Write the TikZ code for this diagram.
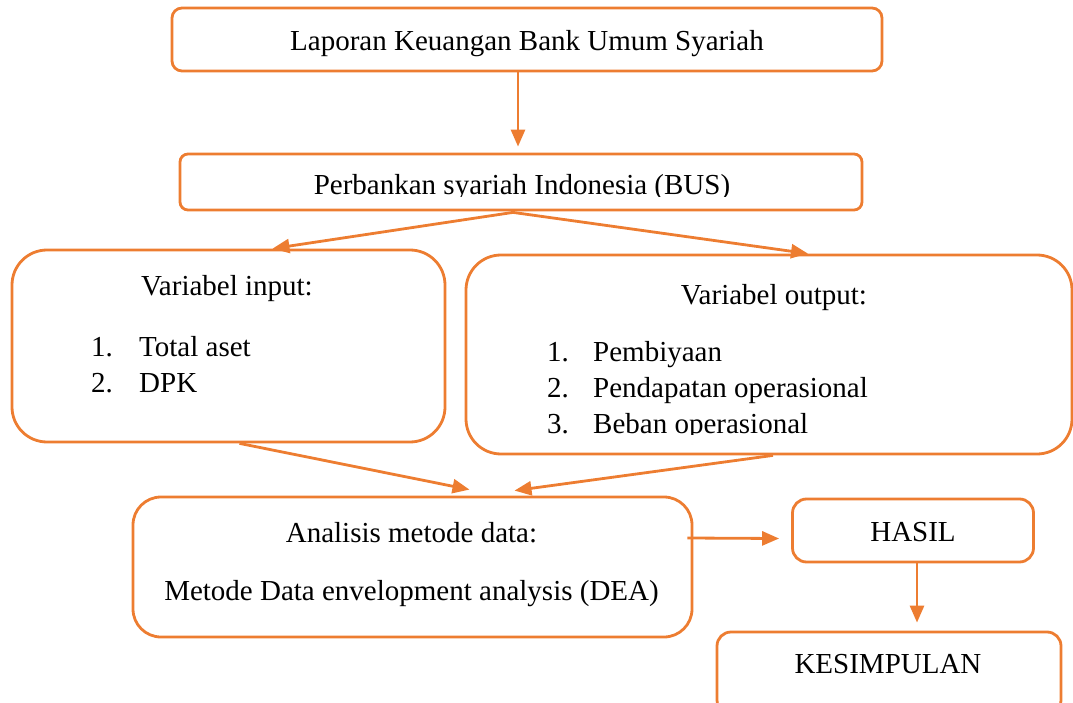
\documentclass[tikz,border=0pt]{standalone}
\usepackage{fontspec}
\setmainfont{Liberation Serif}
\usetikzlibrary{arrows.meta,calc}
\definecolor{org}{HTML}{ED7D31}
\begin{document}
\begin{tikzpicture}[x=1pt,y=-1pt,
  box/.style={draw=org, line width=2.8pt, rectangle, inner sep=0pt},
  txt/.style={inner sep=0pt, font=\fontsize{29}{35}\selectfont},
  conn/.style={draw=org, line width=2.8pt, -{Triangle[length=17pt,width=14pt]}}]
\useasboundingbox (0,0) rectangle (1073,703);
% boxes
\node[box, rounded corners=10pt, minimum width=710pt, minimum height=63pt] (b1) at (527,39.5) {};
\node[box, rounded corners=8pt, minimum width=682pt, minimum height=56pt] (b2) at (521,182) {};
\node[box, rounded corners=35pt, minimum width=433pt, minimum height=192pt] (b3) at (228.5,346) {};
\node[box, rounded corners=35pt, minimum width=606pt, minimum height=199pt] (b4) at (769,354.5) {};
\node[box, rounded corners=28pt, minimum width=559pt, minimum height=140pt] (b5) at (412.5,567) {};
\node[box, rounded corners=14pt, minimum width=241pt, minimum height=63pt] (b6) at (913,530.5) {};
\node[box, rounded corners=14pt, minimum width=344pt, minimum height=82pt] (b7) at (889,673) {};
% texts
\node[txt, anchor=base] (t1) at (527,51) {Laporan Keuangan Bank Umum Syariah};
\begin{scope}
  \clip (180,150) rectangle (862,196.5);
  \node[txt, anchor=base] (t2) at (522,195) {Perbankan syariah Indonesia (BUS)};
\end{scope}
\node[txt, anchor=base] (t3) at (227,295) {Variabel input:};
\node[txt, anchor=base west] (i1n) at (91,356) {1.};
\node[txt, anchor=base west] (i1) at (139,356) {Total aset};
\node[txt, anchor=base west] (i2n) at (91,392) {2.};
\node[txt, anchor=base west] (i2) at (139,392) {DPK};
\node[txt, anchor=base] (t4) at (774,304) {Variabel output:};
\node[txt, anchor=base west] (o1n) at (547,361) {1.};
\node[txt, anchor=base west] (o1) at (593,361) {Pembiyaan};
\node[txt, anchor=base west] (o2n) at (547,397) {2.};
\node[txt, anchor=base west] (o2) at (593,397) {Pendapatan operasional};
\begin{scope}
  \clip (470,405) rectangle (1060,434);
  \node[txt, anchor=base west] (o3n) at (547,433) {3.};
  \node[txt, anchor=base west] (o3) at (593,433) {Beban operasional};
\end{scope}
\node[txt, anchor=base] (t5) at (411.5,542) {Analisis metode data:};
\node[txt, anchor=base] (t6) at (411.5,600) {Metode Data envelopment analysis (DEA)};
\node[txt, anchor=base] (t7) at (913,541) {HASIL};
\node[txt, anchor=base] (t8) at (888,673) {KESIMPULAN};
% connectors
\draw[conn] ($(b1.south)+(-9,0)$) -- ($(b2.north)+(-3,-6)$);
\draw[conn] ($(b2.south)+(-8,1)$) -- ($(b3.north)+(44,0)$);
\draw[conn] ($(b2.south)+(-8,1)$) -- ($(b4.north)+(39,0)$);
\draw[conn] ($(b3.south)+(11,0)$) -- ($(b5.north)+(57,-6)$);
\draw[conn] ($(b4.south)+(4,0)$) -- ($(b5.north)+(102,-5)$);
\draw[conn] ($(b5.east)+(-6,-29)$) -- ($(b6.west)+(-12,8)$);
\draw[conn] ($(b6.south)+(4,0)$) -- ($(b7.north)+(28,-8)$);
\end{tikzpicture}
\end{document}
